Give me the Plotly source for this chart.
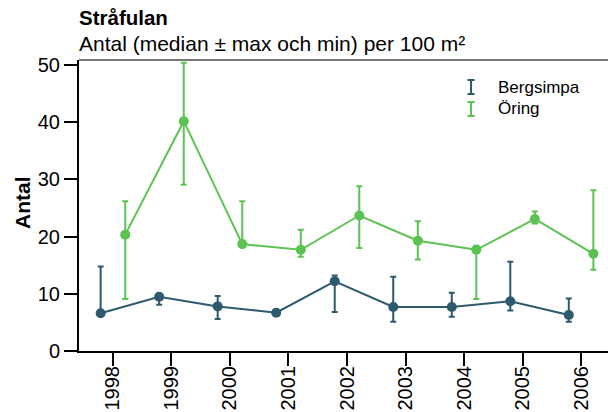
import plotly.graph_objects as go

years = [1998, 1999, 2000, 2001, 2002, 2003, 2004, 2005, 2006]

berg_median = [6.6, 9.5, 7.8, 6.7, 12.2, 7.7, 7.7, 8.7, 6.3]
berg_max = [14.8, 9.9, 9.6, 6.8, 13.2, 13.0, 10.2, 15.6, 9.2]
berg_min = [6.6, 8.1, 5.6, 6.6, 6.8, 5.1, 6.0, 7.1, 5.1]

oring_median = [20.35, 40.2, 18.7, 17.7, 23.7, 19.3, 17.7, 23.1, 17.0]
oring_max = [26.2, 50.4, 26.2, 21.2, 28.8, 22.7, 18.4, 24.4, 28.1]
oring_min = [9.1, 29.1, 18.5, 16.5, 18.0, 16.0, 9.1, 22.3, 14.2]

series = [
    ("Bergsimpa", berg_median, berg_max, berg_min, "#2c5a6e", -0.21),
    ("Öring", oring_median, oring_max, oring_min, "#5cc352", 0.21),
]

W, H = 608, 412
L, R, T, B = 79, 608, 60, 351
FONT = "Liberation Sans, Arial, sans-serif"


def px(xp):
    return (xp - L) / (R - L)


def py(yp):
    return (B - yp) / (B - T)


fig = go.Figure()
for name, med, mx, mn, col, off in series:
    fig.add_trace(go.Scatter(
        x=[y + off for y in years], y=med, name=name, mode="lines+markers",
        line=dict(color=col, width=2),
        marker=dict(color=col, size=10),
        error_y=dict(type="data", symmetric=False,
                     array=[a - m for a, m in zip(mx, med)],
                     arrayminus=[m - b for m, b in zip(med, mn)],
                     color=col, thickness=2, width=3),
        showlegend=False, cliponaxis=False,
    ))

shapes = [dict(type="line", xref="paper", yref="paper", x0=0, x1=1, y0=1, y1=1,
               line=dict(color="#777777", width=2))]
annotations = [
    dict(text="<b>Stråfulan</b>", xref="paper", yref="paper", x=px(77), y=py(17),
         xanchor="left", yanchor="middle", showarrow=False, font=dict(size=20.5, color="black", family=FONT)),
    dict(text="Antal (median ± max och min) per 100 m²", xref="paper", yref="paper", x=px(77), y=py(44),
         xanchor="left", yanchor="middle", showarrow=False, font=dict(size=21, color="black", family=FONT)),
    dict(text="<b>Antal</b>", xref="paper", yref="paper", x=px(22), y=py(203),
         xanchor="center", yanchor="middle", textangle=-90, showarrow=False,
         font=dict(size=21, color="black", family=FONT)),
]

legend_rows = [("Bergsimpa", "#2c5a6e", 87), ("Öring", "#5cc352", 109)]
for name, col, yc in legend_rows:
    shapes.append(dict(type="line", xref="paper", yref="paper", x0=px(471), x1=px(471),
                       y0=py(yc - 7), y1=py(yc + 7), line=dict(color=col, width=2)))
    for yy in (yc - 7, yc + 7):
        shapes.append(dict(type="line", xref="paper", yref="paper", x0=px(467.5), x1=px(474.5),
                           y0=py(yy), y1=py(yy), line=dict(color=col, width=2)))
    annotations.append(dict(text=name, xref="paper", yref="paper", x=px(496), y=py(yc),
                            xanchor="left", yanchor="middle", showarrow=False,
                            font=dict(size=17, color="black", family=FONT)))

fig.update_layout(
    width=W, height=H,
    margin=dict(l=L, r=W - R, t=T, b=H - B, pad=0),
    plot_bgcolor="white", paper_bgcolor="white",
    font=dict(family=FONT, color="black"),
    shapes=shapes, annotations=annotations,
    xaxis=dict(range=[1997.42, 2006.46], tickmode="array", tickvals=years,
               ticktext=[str(y) for y in years], tickangle=-90, automargin=False,
               ticklabelstandoff=-8,
               showgrid=False, zeroline=False, showline=True, linecolor="black", linewidth=2,
               ticks="outside", ticklen=13, tickwidth=2, tickcolor="black",
               tickfont=dict(size=20, color="black", family=FONT)),
    yaxis=dict(range=[0, 50.9], tickvals=[0, 10, 20, 30, 40, 50], automargin=False,
               showgrid=False, zeroline=False, showline=True, linecolor="black", linewidth=2,
               ticks="outside", ticklen=13, tickwidth=2, tickcolor="black",
               tickfont=dict(size=20, color="black", family=FONT)),
)

fig.write_html("out.html", config={"displayModeBar": False},
               post_script="document.body.style.margin='0';document.body.style.padding='0';")
